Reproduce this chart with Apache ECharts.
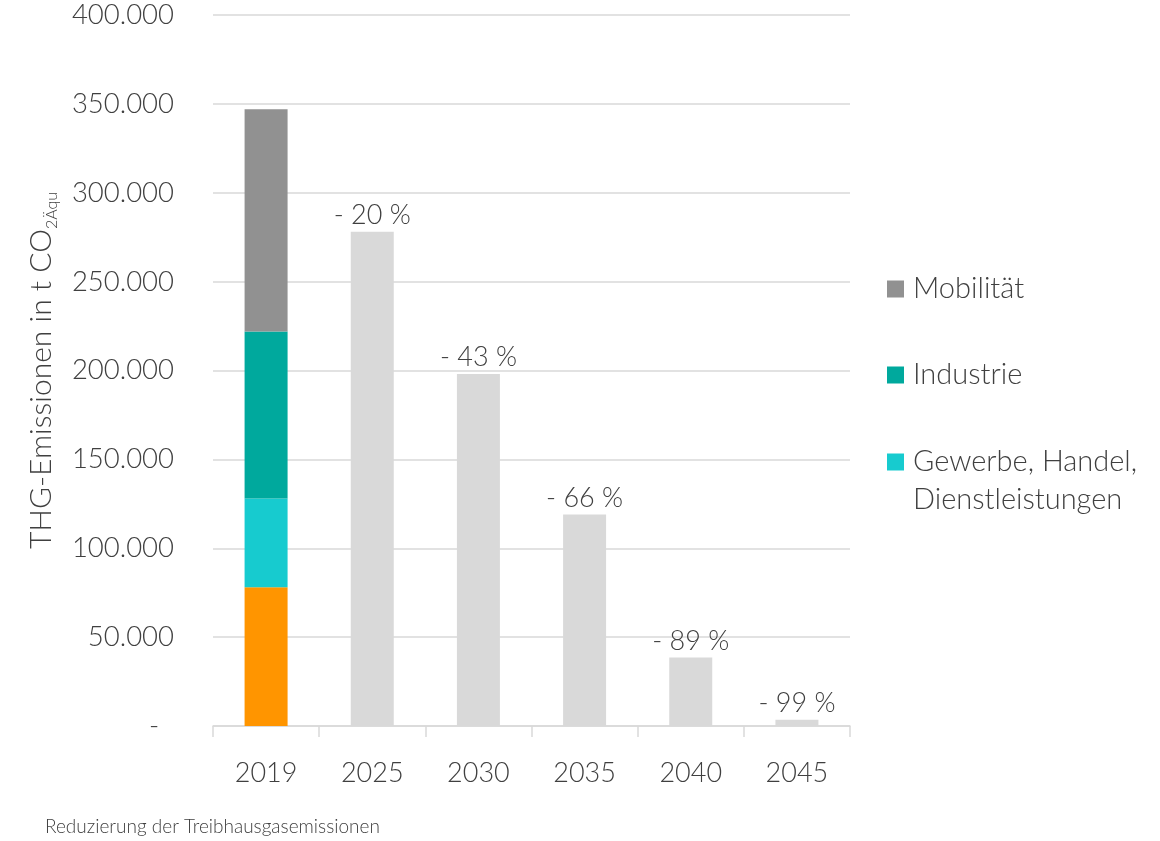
<!DOCTYPE html>
<html>
<head>
<meta charset="utf-8">
<script src="https://cdn.jsdelivr.net/npm/echarts@6/dist/echarts.min.js"></script>
<style>
  html, body { margin: 0; padding: 0; background: #fff; }
  #main { width: 1160px; height: 841px; }
</style>
</head>
<body>
<div id="main"></div>
<script>
// Jahre auf der x-Achse
const years = ['2019', '2025', '2030', '2035', '2040', '2045'];
// 2019 nach Sektoren (t CO2Äqu)
const haushalte = [78000, '-', '-', '-', '-', '-'];
const gewerbe = [50000, '-', '-', '-', '-', '-'];
const industrie = [94000, '-', '-', '-', '-', '-'];
const mobilitaet = [125000, '-', '-', '-', '-', '-'];
// Zielpfad
const zielpfad = ['-', 278000, 198000, 119000, 38500, 3500];
const pctLabels = ['', '- 20 %', '- 43 %', '- 66 %', '- 89 %', '- 99 %'];

const FONT = 'Lato, "Open Sans", sans-serif';
const TXT = '#404040';

const fmt = v => v === 0 ? '-  ' : String(v).replace(/\B(?=(\d{3})+(?!\d))/g, '.');

const chart = echarts.init(document.getElementById('main'));

const legRich = {
  e: { fontSize: 29, lineHeight: 38 },
  a: { fontFamily: FONT, fontSize: 29, color: TXT, lineHeight: 38, fontWeight: 300, padding: [0, 0, 0, 4] }
};

const legendBase = {
  orient: 'vertical',
  left: 887,
  padding: 0,
  itemWidth: 17,
  itemHeight: 17,
  itemGap: 0,
  icon: 'rect',
  selectedMode: false,
  formatter: name => '{a|' + name + '}',
  textStyle: { fontFamily: FONT, fontSize: 29, color: TXT, lineHeight: 38, fontWeight: 300, rich: legRich }
};

chart.setOption({
  backgroundColor: '#fff',
  animation: false,
  textStyle: { fontFamily: FONT },
  title: {
    text: 'Reduzierung der Treibhausgasemissionen',
    left: 45,
    top: 817,
    padding: 0,
    textStyle: { fontFamily: FONT, fontSize: 19, fontWeight: 300, color: TXT }
  },
  legend: [
    Object.assign({}, legendBase, { top: 270, data: ['Mobilität'] }),
    Object.assign({}, legendBase, { top: 356, data: ['Industrie'] }),
    Object.assign({}, legendBase, {
      top: 405,
      data: ['Gewerbe, Handel, Dienstleistungen'],
      formatter: () => '{e| }\n{a|Gewerbe, Handel,}\n{a|Dienstleistungen}'
    })
  ],
  grid: { left: 213, right: 310, top: 15, bottom: 115, containLabel: false },
  xAxis: {
    type: 'category',
    data: years,
    axisLine: { lineStyle: { color: '#D9D9D9', width: 1.5 } },
    axisTick: { show: true, length: 11, lineStyle: { color: '#D9D9D9', width: 1.5 } },
    axisLabel: { color: TXT, fontSize: 27, fontFamily: FONT, fontWeight: 300, margin: 34 }
  },
  yAxis: {
    type: 'value',
    min: 0,
    max: 400000,
    interval: 50000,
    name: '{a|THG-Emissionen in t CO}{s|2Äqu}',
    nameLocation: 'middle',
    nameGap: 153,
    nameTextStyle: {
      rich: {
        a: { fontFamily: FONT, fontSize: 30, color: TXT, fontWeight: 300, lineHeight: 38 },
        s: { fontFamily: FONT, fontSize: 16, color: TXT, fontWeight: 300, verticalAlign: 'bottom', lineHeight: 38 }
      }
    },
    axisLine: { show: false },
    axisTick: { show: false },
    splitLine: { lineStyle: { color: '#D9D9D9', width: 1.5 } },
    axisLabel: { color: TXT, fontSize: 27.5, fontFamily: FONT, fontWeight: 300, margin: 39, formatter: fmt }
  },
  series: [
    { name: 'Private Haushalte', type: 'bar', stack: 'all', barWidth: 43, data: haushalte, itemStyle: { color: '#FF9500' } },
    { name: 'Gewerbe, Handel, Dienstleistungen', type: 'bar', stack: 'all', data: gewerbe, itemStyle: { color: '#17CBCF' } },
    { name: 'Industrie', type: 'bar', stack: 'all', data: industrie, itemStyle: { color: '#00A99D' } },
    { name: 'Mobilität', type: 'bar', stack: 'all', data: mobilitaet, itemStyle: { color: '#919191' } },
    {
      name: 'Zielpfad', type: 'bar', stack: 'all', data: zielpfad,
      itemStyle: { color: '#D9D9D9' },
      label: {
        show: true, position: 'top', distance: 3,
        color: TXT, fontSize: 27, fontFamily: FONT, fontWeight: 300,
        formatter: p => pctLabels[p.dataIndex]
      }
    }
  ]
});
</script>
</body>
</html>
